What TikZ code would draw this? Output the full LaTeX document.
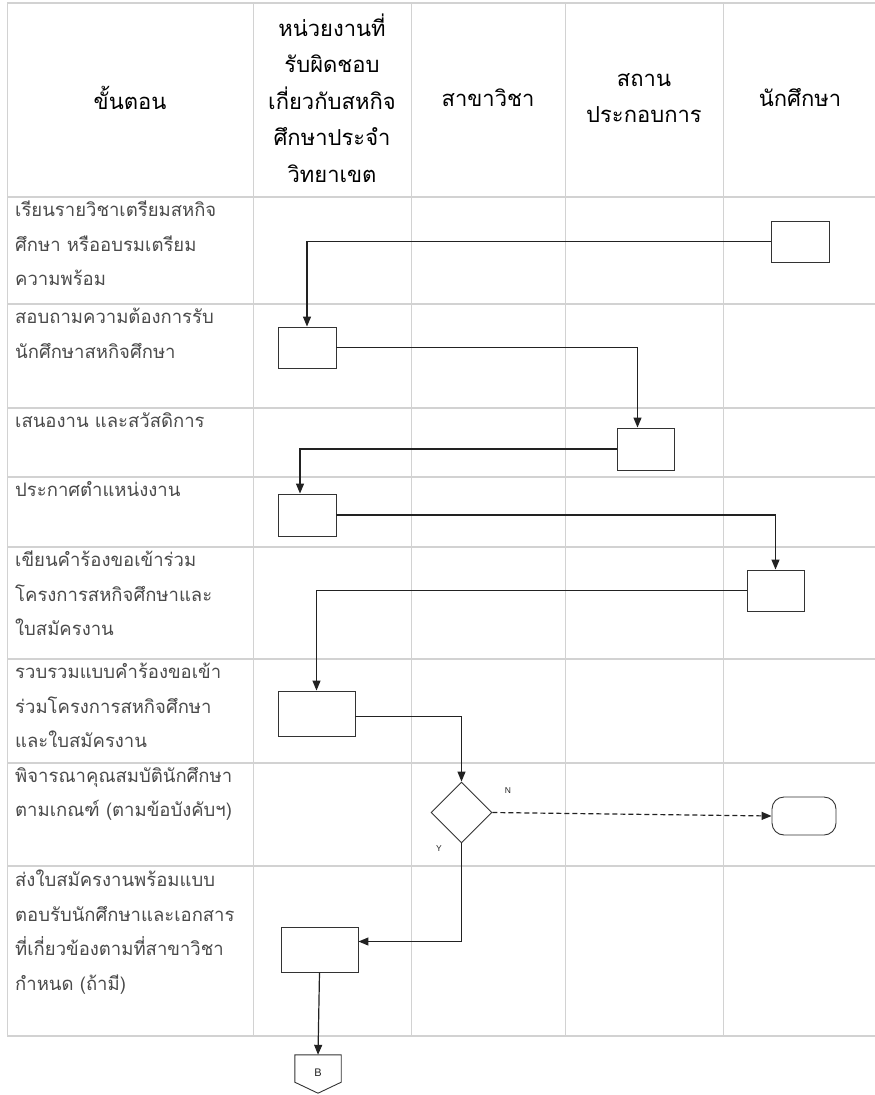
\documentclass[tikz,border=0pt]{standalone}
\usepackage{fontspec}
\newfontfamily\thaifont[Script=Thai]{Loma}
\setsansfont{Liberation Sans}
\usetikzlibrary{arrows.meta,shapes.geometric,calc}
\definecolor{gridgray}{HTML}{D2D2D2}
\definecolor{stepgray}{HTML}{4A4A4A}
\definecolor{boxgray}{HTML}{333333}
\definecolor{linegray}{HTML}{222222}
\begin{document}
\begin{tikzpicture}[x=1pt,y=-1pt,
  vgrid/.style={draw=gridgray, line width=0.8pt},
  hgrid/.style={draw=gridgray, line width=1.3pt},
  head/.style={font=\thaifont\fontsize{22}{36.5}\selectfont, align=center, text=black, inner sep=0},
  steptext/.style={font=\thaifont\fontsize{18.5}{34.5}\selectfont, align=left, anchor=north west, text=stepgray, inner sep=0},
  box/.style={draw=boxgray, line width=0.9pt, fill=white, inner sep=0, minimum width=58pt, minimum height=41pt},
  flow/.style={draw=linegray, line width=1.2pt, -{Triangle[length=10pt,width=8pt]}},
  yn/.style={font=\sffamily\fontsize{8.5}{9}\selectfont, text=linegray, inner sep=0}
]
\useasboundingbox (0,0) rectangle (875,1095);
% grid
\foreach \yy in {3,197,304,408,477,547,659,763,866,1036}{
  \draw[hgrid] (7,\yy) -- (875,\yy);
}
\foreach \xx in {7,253,411,565,723}{
  \draw[vgrid] (\xx,3) -- (\xx,1036);
}
% header
\node[head] (h1) at (130,98) {ขั้นตอน};
\node[head] (h2) at (332,98) {หน่วยงานที่\\รับผิดชอบ\\เกี่ยวกับสหกิจ\\ศึกษาประจำ\\วิทยาเขต};
\node[head] (h3) at (488,98) {สาขาวิชา};
\node[head] (h4) at (644,98) {สถาน\\ประกอบการ};
\node[head] (h5) at (800,98) {นักศึกษา};
% steps
\node[steptext] (s1) at (15,201) {เรียนรายวิชาเตรียมสหกิจ\\ศึกษา หรืออบรมเตรียม\\ความพร้อม};
\node[steptext] (s2) at (15,308) {สอบถามความต้องการรับ\\นักศึกษาสหกิจศึกษา};
\node[steptext] (s3) at (15,412) {เสนองาน และสวัสดิการ};
\node[steptext] (s4) at (15,481) {ประกาศตำแหน่งงาน};
\node[steptext] (s5) at (15,551) {เขียนคำร้องขอเข้าร่วม\\โครงการสหกิจศึกษาและ\\ใบสมัครงาน};
\node[steptext] (s6) at (15,663) {รวบรวมแบบคำร้องขอเข้า\\ร่วมโครงการสหกิจศึกษา\\และใบสมัครงาน};
\node[steptext] (s7) at (15,767) {พิจารณาคุณสมบัตินักศึกษา\\ตามเกณฑ์ (ตามข้อบังคับฯ)};
\node[steptext] (s8) at (15,870) {ส่งใบสมัครงานพร้อมแบบ\\ตอบรับนักศึกษาและเอกสาร\\ที่เกี่ยวข้องตามที่สาขาวิชา\\กำหนด (ถ้ามี)};
% boxes
\node[box] (A) at (800,241.5) {};
\node[box] (B) at (307,347.5) {};
\node[box, minimum width=57pt, minimum height=42pt] (C) at (645.5,449) {};
\node[box, minimum height=42pt] (D) at (307,515) {};
\node[box, minimum width=57pt] (E) at (775.5,590.5) {};
\node[box, minimum width=77pt, minimum height=45pt] (F) at (316.5,713.5) {};
\node[box, minimum width=77pt, minimum height=45pt] (G) at (319.5,949.5) {};
\node[diamond, aspect=1, draw=boxgray, line width=0.9pt, minimum width=61pt, minimum height=61pt, inner sep=0] (dia) at (461.5,812.5) {};
\node[draw=boxgray, line width=0.9pt, rounded corners=12pt, minimum width=64pt, minimum height=38pt, inner sep=0] (term) at (804,816) {};
\node[inner sep=0, minimum width=46pt, minimum height=27pt] (offp) at (318,1068.5) {};
\draw[draw=boxgray, line width=0.9pt] (offp.north west) -- (offp.north east) -- (offp.south east) -- ($(offp.south)+(0,11)$) -- (offp.south west) -- cycle;
\node[font=\sffamily\fontsize{11}{12}\selectfont, text=linegray, inner sep=0] (blabel) at (318,1073) {B};
% labels
\node[yn] (nl) at (508,791) {N};
\node[yn] (yl) at (439,849) {Y};
% connectors
\draw[flow] (A.west) -| (B.north);
\draw[flow] (B.east) -| ($(C.north)+(-8,0)$);
\draw[flow] (C.west) -| ($(D.north)+(-7,0)$);
\draw[flow] (D.east) -| (E.north);
\draw[flow] (E.west) -| (F.north);
\draw[flow] ($(F.east)+(0,3)$) -| (dia.north);
\draw[flow, dash pattern=on 5pt off 3pt] (dia.east) -- (term.west);
\draw[flow] (dia.south) |- ($(G.east)+(0,-8)$);
\draw[flow] (G.south) -- (offp.north);
\end{tikzpicture}
\end{document}
